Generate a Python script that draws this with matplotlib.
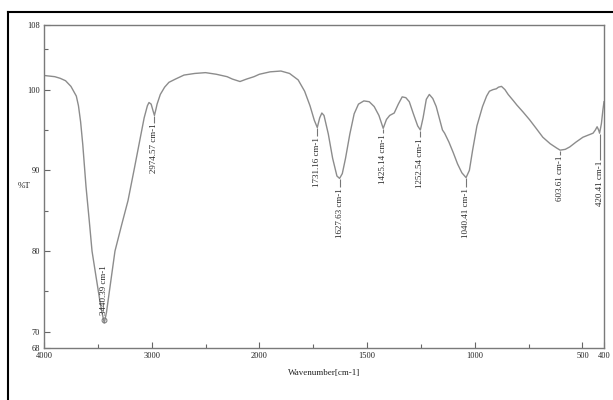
import numpy as np
import matplotlib
matplotlib.use("Agg")
import matplotlib.pyplot as plt
from matplotlib.lines import Line2D

plt.rcParams['font.family'] = ['Liberation Serif', 'DejaVu Serif']

# FTIR spectrum
wavenumber = [4000, 3900, 3850, 3800, 3750, 3700, 3680, 3660, 3640, 3610, 3580, 3554,
              3520, 3480, 3460, 3440.39, 3420, 3406, 3341, 3280, 3220, 3160,
              3110, 3070, 3040, 3025, 3005, 2988, 2974.57, 2960, 2950, 2920,
              2880, 2840, 2780, 2700, 2600, 2500, 2400, 2300, 2250, 2180, 2120,
              2050, 2000, 1950, 1900, 1860, 1820, 1790, 1765, 1745, 1731.16,
              1720, 1710, 1700, 1680, 1660, 1640, 1627.63, 1615, 1600, 1580,
              1560, 1540, 1515, 1490, 1467, 1445, 1425.14, 1410, 1395, 1374,
              1355, 1337, 1320, 1304, 1285, 1265, 1252.54, 1240, 1225, 1211,
              1195, 1179, 1165, 1150, 1140, 1120, 1100, 1080, 1060, 1040.41,
              1025, 1010, 990, 964, 945, 932, 915, 900, 890, 876, 860, 845, 820,
              805, 775, 745, 715, 684, 650, 619, 603.61, 580, 559, 530, 498, 470,
              451, 440, 432, 425, 420.41, 412, 405, 400]
transmittance = [101.75, 101.6, 101.4, 101.1, 100.4, 99.2, 98.0, 96.0, 93.2, 88.0, 83.8, 80.0,
                 77.1, 73.75, 72.3, 71.1, 72.4, 73.75, 80.0, 83.2, 86.25, 90.3,
                 93.75, 96.5, 98.0, 98.4, 98.2, 97.4, 96.8, 97.6, 98.2, 99.4,
                 100.3, 100.9, 101.3, 101.8, 102.0, 102.1, 101.9, 101.6, 101.3, 101.0, 101.3,
                 101.6, 101.9, 102.2, 102.3, 102.0, 101.2, 99.8, 98.0, 96.2, 95.3,
                 96.5, 97.1, 96.8, 94.5, 91.5, 89.3, 89.0, 89.6, 91.5, 94.5,
                 97.0, 98.2, 98.6, 98.5, 97.9, 96.8, 95.2, 96.3, 96.8, 97.1,
                 98.2, 99.1, 99.0, 98.5, 97.0, 95.5, 95.0, 96.5, 98.8, 99.4,
                 98.9, 97.9, 96.5, 95.0, 94.6, 93.5, 92.2, 90.8, 89.7, 89.1,
                 90.0, 92.5, 95.5, 97.9, 99.2, 99.8, 100.0, 100.1, 100.3, 100.4, 100.0, 99.4, 98.6,
                 98.1, 97.2, 96.25, 95.2, 94.1, 93.3, 92.75, 92.5, 92.6, 92.9, 93.5, 94.1, 94.4,
                 94.6, 95.0, 95.4, 95.0, 94.6, 95.8, 97.5, 98.5]

peak_wn = [3440.39, 2974.57, 1731.16, 1627.63, 1425.14, 1252.54, 1040.41, 603.61, 420.41]
peak_t = [71.1, 96.8, 95.3, 89.0, 95.2, 95.0, 89.1, 92.5, 94.6]
peak_labels = ["3440.39 cm-1", "2974.57 cm-1", "1731.16 cm-1", "1627.63 cm-1",
               "1425.14 cm-1", "1252.54 cm-1", "1040.41 cm-1", "603.61 cm-1",
               "420.41 cm-1"]


def fwd(w):
    w = np.asarray(w, dtype=float)
    return np.where(w >= 2000, w, 2 * w - 2000)


def inv(v):
    v = np.asarray(v, dtype=float)
    return np.where(v >= 2000, v, (v + 2000) / 2)


fig = plt.figure(figsize=(6.13, 4.0), dpi=100)
ax = fig.add_axes([44 / 613, 1 - 348 / 400, 560 / 613, 323 / 400])

ax.set_xscale('function', functions=(fwd, inv))
ax.plot(wavenumber, transmittance, color='#8c8c8c', lw=1.0)
ax.set_xlim(4000, 400)
ax.set_ylim(68, 108)

# peak labels, vertical, below each dip (the big O-H band is labelled inside the valley)
gaps = [0.7, 0.9, 1.1, 1.1, 0.6, 0.9, 1.2, 0.6, 3.3]
for w, t, lab, g in zip(peak_wn, peak_t, peak_labels, gaps):
    if w > 3000 and t < 80:
        ax.plot([w], [t + 0.4], marker='o', ms=3.5, mfc='none', mec='#777777', mew=0.7)
        ax.text(w, t + g + 0.3, lab, rotation=90, ha='center', va='bottom',
                fontsize=6.5, color='#2a2a2a')
    else:
        ax.vlines(w, t - g, t - 0.1, color='#777777', lw=0.8)
        ax.text(w, t - g - 0.1, lab, rotation=90, ha='center', va='top',
                fontsize=6.5, color='#2a2a2a')

ax.set_xticks([4000, 3000, 2000, 1500, 1000, 500, 400])
ax.set_xticklabels(['4000', '3000', '2000', '1500', '1000', '500', '400'])
ax.set_xticks([3500, 2500, 1750, 1250, 750], minor=True)
ax.set_yticks([68, 70, 80, 90, 100, 108])
ax.set_yticks([75, 85, 95, 105], minor=True)
ax.tick_params(which='both', direction='in', labelsize=6, colors='#666666',
               labelcolor='#222222', width=0.8)
ax.tick_params(which='major', length=4)
ax.tick_params(which='minor', length=3)
ax.tick_params(axis='x', pad=3)
ax.tick_params(axis='y', pad=3)

for s in ax.spines.values():
    s.set_color('#7a7a7a')
    s.set_linewidth(1.0)

ax.set_xlabel('Wavenumber[cm-1]', fontsize=6.5, color='#222222', labelpad=6)
ax.set_ylabel('%T', fontsize=6.5, color='#222222', rotation=0, labelpad=6)
ax.yaxis.set_label_coords(-0.035, 0.49)

# black frame of the scanned page
fig.add_artist(Line2D([8 / 613, 1.0], [1 - 12 / 400] * 2, transform=fig.transFigure,
                      color='black', lw=1.5))
fig.add_artist(Line2D([8 / 613] * 2, [0.0, 1 - 12 / 400], transform=fig.transFigure,
                      color='black', lw=1.5))

fig.savefig('out.png', dpi=100)
